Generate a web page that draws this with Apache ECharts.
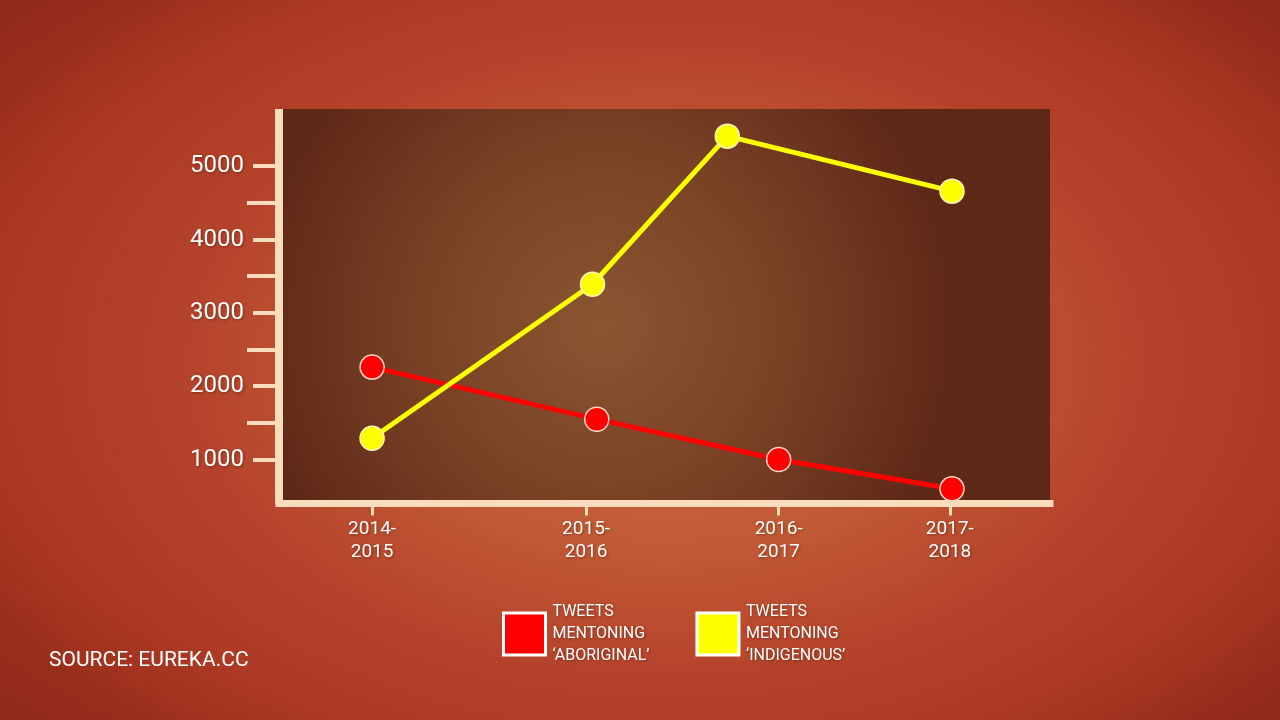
<!DOCTYPE html>
<html>
<head>
<meta charset="utf-8">
<script src="https://cdn.jsdelivr.net/npm/echarts@6/dist/echarts.min.js"></script>
<style>
html,body{margin:0;padding:0;width:1280px;height:720px;overflow:hidden;}
body{background:
 radial-gradient(ellipse 60% 70% at 52% 50%, #cd6c43 0%, #c35b36 35%, #b4412a 65%, rgba(150,40,24,0) 100%),
 radial-gradient(ellipse 90% 90% at 50% 50%, #b84326 0%, #a3321e 60%, #7a1f14 100%);}
#chart{width:1280px;height:720px;}
</style>
</head>
<body>
<div id="chart"></div>
<script>
// ---- data ----
const periods = ['2014-\n2015', '2015-\n2016', '2016-\n2017', '2017-\n2018'];
// position of each period along the (hand-drawn, uneven) time axis
const periodPos = [0, 1, 1.9, 2.7];
const aboriginalX = [0, 1.05, 1.9, 2.71];
const aboriginalTweets = [2260, 1550, 1000, 600];
const indigenousX = [0, 1.03, 1.66, 2.71];
const indigenousTweets = [1290, 3390, 5410, 4660];
const majorTicks = [1000, 2000, 3000, 4000, 5000];
const minorTicks = [1500, 2500, 3500, 4500];
const seriesNames = ['TWEETS\nMENTONING\n‘ABORIGINAL’', 'TWEETS\nMENTONING\n‘INDIGENOUS’'];
const sourceText = 'SOURCE: EUREKA.CC';

const cream = '#fcdcbc';
const font = 'Roboto, "Open Sans", sans-serif';
const shadow = {textShadowColor: 'rgba(60,10,0,0.45)', textShadowBlur: 3, textShadowOffsetX: 1, textShadowOffsetY: 1};

const chart = echarts.init(document.getElementById('chart'), null, {renderer: 'canvas'});

function pair(xs, ys) { return xs.map((x, i) => [x, ys[i]]); }

chart.setOption({
  backgroundColor: 'transparent',
  animation: false,
  grid: {
    left: 279, right: 230, top: 109, bottom: 216.5,
    show: true, borderWidth: 0,
    backgroundColor: {
      type: 'radial', x: 0.42, y: 0.55, r: 0.9,
      colorStops: [
        {offset: 0, color: '#8a5631'},
        {offset: 0.5, color: '#7a4225'},
        {offset: 1, color: '#5e2817'}
      ]
    }
  },
  xAxis: {
    type: 'value', min: -0.435, max: 3.168,
    splitLine: {show: false},
    axisLine: {show: true, onZero: false, lineStyle: {color: cream, width: 7, cap: 'square'}},
    axisTick: {show: true, customValues: periodPos, length: 12, lineStyle: {color: cream, width: 3}},
    axisLabel: {
      customValues: periodPos, margin: 14,
      formatter: function (v) {
        let best = 0;
        periodPos.forEach((p, i) => { if (Math.abs(p - v) < Math.abs(periodPos[best] - v)) best = i; });
        return periods[best];
      },
      color: '#ffffff', fontFamily: font, fontSize: 19, lineHeight: 23, ...shadow
    }
  },
  yAxis: [{
    type: 'value', min: 400, max: 5780,
    splitLine: {show: false},
    axisLine: {show: true, onZero: false, lineStyle: {color: cream, width: 8, cap: 'butt'}},
    axisTick: {show: true, customValues: majorTicks, length: 26, lineStyle: {color: cream, width: 4}},
    axisLabel: {customValues: majorTicks, margin: 35, formatter: v => String(v),
      color: '#ffffff', fontFamily: font, fontSize: 24, ...shadow}
  }, {
    type: 'value', min: 400, max: 5780, position: 'left',
    splitLine: {show: false},
    axisLine: {show: false, onZero: false},
    axisTick: {show: true, customValues: minorTicks, length: 32, lineStyle: {color: cream, width: 4}},
    axisLabel: {show: false}
  }],
  legend: {
    left: 497, top: 596,
    icon: 'rect', itemWidth: 42, itemHeight: 42, itemGap: 46,
    itemStyle: {borderColor: '#ffffff', borderWidth: 3},
    textStyle: {color: '#ffffff', fontFamily: font, fontSize: 16, lineHeight: 22, padding: [0, 0, 0, 2], ...shadow},
    data: seriesNames
  },
  graphic: [{
    type: 'text', left: 49, top: 650,
    style: {text: sourceText, fill: '#ffffff', font: '21px Roboto, "Open Sans", sans-serif'}
  }],
  series: [{
    name: seriesNames[0], type: 'line',
    data: pair(aboriginalX, aboriginalTweets),
    symbol: 'circle', symbolSize: 24,
    lineStyle: {color: '#ff0000', width: 5},
    itemStyle: {color: '#ff0000', borderColor: '#ffd6c8', borderWidth: 1.5},
    z: 5
  }, {
    name: seriesNames[1], type: 'line',
    data: pair(indigenousX, indigenousTweets),
    symbol: 'circle', symbolSize: 24,
    lineStyle: {color: '#ffff00', width: 5},
    itemStyle: {color: '#ffff00', borderColor: '#fff6c0', borderWidth: 1.5},
    z: 6
  }]
});
</script>
</body>
</html>
